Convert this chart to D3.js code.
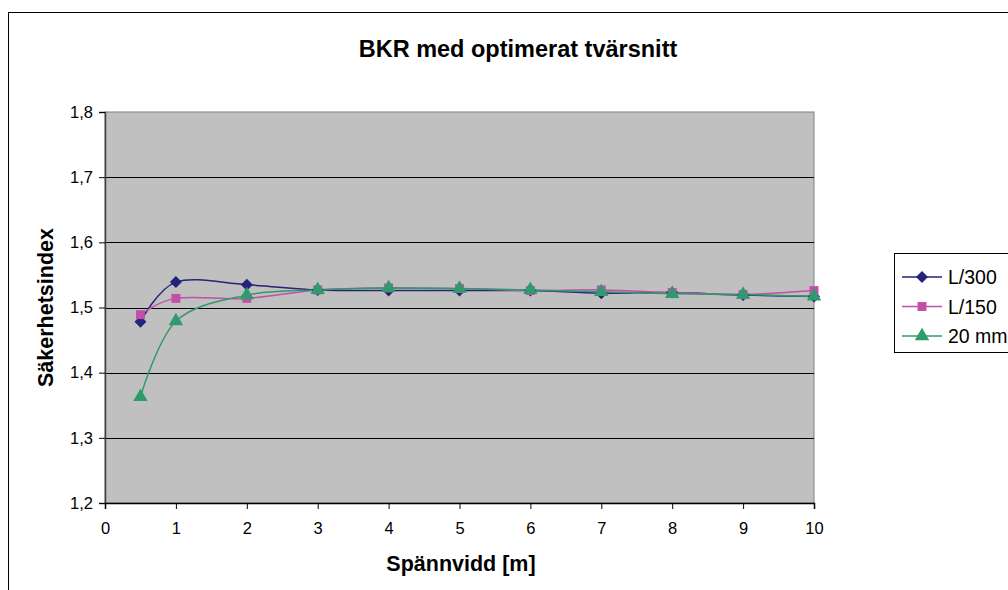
<!DOCTYPE html>
<html>
<head>
<meta charset="utf-8">
<script src="https://cdn.jsdelivr.net/npm/d3@7"></script>
<style>
  body { margin: 0; background: #fff; }
  text { font-family: "Liberation Sans", Arial, sans-serif; }
</style>
</head>
<body>
<script>
// chart values
const spans = [0.5, 1, 2, 3, 4, 5, 6, 7, 8, 9, 10];
const l300 = [1.478, 1.539, 1.535, 1.527, 1.526, 1.526, 1.526, 1.522, 1.523, 1.519, 1.517];
const l150 = [1.489, 1.514, 1.514, 1.527, 1.530, 1.529, 1.526, 1.527, 1.523, 1.520, 1.526];
const mm20 = [1.363, 1.479, 1.519, 1.527, 1.530, 1.529, 1.527, 1.524, 1.521, 1.520, 1.517];
const seriesNames = ["L/300", "L/150", "20 mm"];
const xTicks = [0, 1, 2, 3, 4, 5, 6, 7, 8, 9, 10];
const yTicks = [1.2, 1.3, 1.4, 1.5, 1.6, 1.7, 1.8];

const width = 1008, height = 590;
const plot = { left: 105, top: 112, right: 814, bottom: 503 };

const svg = d3.select("body").append("svg")
  .attr("width", width)
  .attr("height", height);

// outer chart border
svg.append("rect")
  .attr("x", 8.5).attr("y", 12.5)
  .attr("width", 1010).attr("height", 600)
  .attr("fill", "#fff")
  .attr("stroke", "#000")
  .attr("stroke-width", 1);

const x = d3.scaleLinear().domain([0, 10]).range([plot.left, plot.right]);
const y = d3.scaleLinear().domain([1.2, 1.8]).range([plot.bottom, plot.top]);

// plot area
svg.append("rect")
  .attr("x", plot.left).attr("y", plot.top)
  .attr("width", plot.right - plot.left)
  .attr("height", plot.bottom - plot.top)
  .attr("fill", "#c0c0c0")
  .attr("stroke", "#808080")
  .attr("stroke-width", 1);

// gridlines
svg.append("g")
  .selectAll("line")
  .data(yTicks.slice(1, -1))
  .enter()
  .append("line")
  .attr("x1", plot.left).attr("x2", plot.right)
  .attr("y1", (d) => Math.round(y(d)) + 0.5)
  .attr("y2", (d) => Math.round(y(d)) + 0.5)
  .attr("stroke", "#000")
  .attr("stroke-width", 1);

// axes
const fmt = (d) => d3.format(".1f")(d).replace(".", ",");
const yAxis = svg.append("g")
  .attr("transform", `translate(${plot.left},0)`)
  .call(d3.axisLeft(y).tickValues(yTicks).tickFormat(fmt).tickSize(6).tickPadding(6));
const xAxis = svg.append("g")
  .attr("transform", `translate(0,${plot.bottom})`)
  .call(d3.axisBottom(x).tickValues(xTicks).tickFormat(d3.format("d")).tickSize(6).tickPadding(13));

[xAxis, yAxis].forEach((ax) => {
  ax.select(".domain").attr("stroke", "#000").attr("stroke-width", 1.5);
  ax.selectAll(".tick line").attr("stroke", "#000");
  ax.selectAll(".tick text")
    .attr("fill", "#000")
    .style("font-size", "16.5px")
    .style("font-family", "'Liberation Sans', Arial, sans-serif");
});
yAxis.select(".domain").attr("stroke", "#404040");
xAxis.selectAll(".tick line").attr("y1", 0);

// titles
svg.append("text")
  .attr("x", 518).attr("y", 57)
  .attr("text-anchor", "middle")
  .style("font-size", "23.5px").style("font-weight", "bold")
  .text("BKR med optimerat tvärsnitt");

svg.append("text")
  .attr("x", 461).attr("y", 571)
  .attr("text-anchor", "middle")
  .style("font-size", "21.5px").style("font-weight", "bold")
  .text("Spännvidd [m]");

svg.append("text")
  .attr("transform", `translate(53,${(plot.top + plot.bottom) / 2}) rotate(-90)`)
  .attr("text-anchor", "middle")
  .style("font-size", "21.5px").style("font-weight", "bold")
  .text("Säkerhetsindex");

// series
const colors = ["#23237a", "#c44faa", "#2f9a6b"];
const diamond = {
  draw(ctx, size) {
    const r = Math.sqrt(size / 2);
    ctx.moveTo(0, -r);
    ctx.lineTo(r, 0);
    ctx.lineTo(0, r);
    ctx.lineTo(-r, 0);
    ctx.closePath();
  }
};
const symbols = [diamond, d3.symbolSquare, d3.symbolTriangle];
const symSizes = [72, 80, 90];
const allSeries = [l300, l150, mm20];

const line = d3.line()
  .x((d) => x(d[0]))
  .y((d) => y(d[1]))
  .curve(d3.curveCardinal.tension(0));

const seriesG = svg.append("g");
allSeries.forEach((vals, i) => {
  const pts = spans.map((s, j) => [s, vals[j]]);
  seriesG.append("path")
    .datum(pts)
    .attr("d", line)
    .attr("fill", "none")
    .attr("stroke", colors[i])
    .attr("stroke-width", 1.5);
});
allSeries.forEach((vals, i) => {
  const pts = spans.map((s, j) => [s, vals[j]]);
  seriesG.append("g")
    .selectAll("path")
    .data(pts)
    .enter()
    .append("path")
    .attr("transform", (d) => `translate(${x(d[0])},${y(d[1])})`)
    .attr("d", d3.symbol().type(symbols[i]).size(symSizes[i]))
    .attr("fill", colors[i]);
});

// legend
const legend = svg.append("g").attr("transform", "translate(894,253)");
legend.append("rect")
  .attr("x", 0.5).attr("y", 0.5)
  .attr("width", 130).attr("height", 99)
  .attr("fill", "#fff")
  .attr("stroke", "#000");

const item = legend.selectAll("g")
  .data(seriesNames)
  .enter()
  .append("g")
  .attr("transform", (d, i) => `translate(0,${24 + i * 29.5})`);

item.append("line")
  .attr("x1", 8).attr("x2", 48)
  .attr("stroke", (d, i) => colors[i])
  .attr("stroke-width", 1.5);
item.append("path")
  .attr("transform", "translate(28,0)")
  .attr("d", (d, i) => d3.symbol().type(symbols[i]).size(symSizes[i])())
  .attr("fill", (d, i) => colors[i]);
item.append("text")
  .attr("x", 54).attr("y", 7)
  .style("font-size", "19.5px")
  .text((d) => d);
</script>
</body>
</html>
